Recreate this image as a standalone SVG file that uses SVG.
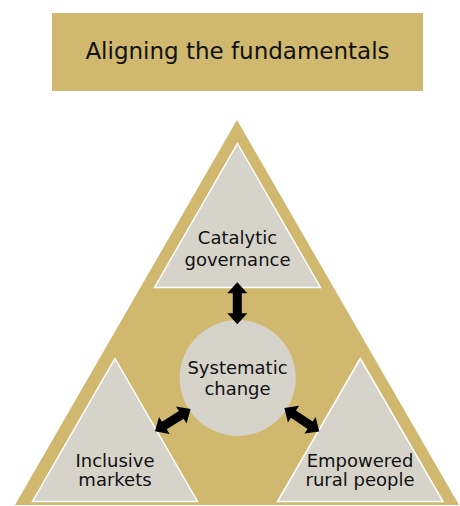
<svg xmlns="http://www.w3.org/2000/svg" width="460" height="506" viewBox="0 0 460 506">
  <style>
    .label { font-family: "DejaVu Sans", Verdana, sans-serif; fill: #111111; text-anchor: middle; }
    .title { font-size: 23px; }
    .node { font-size: 18px; }
    .gold { fill: #D0B86F; }
    .panel { fill: #D6D3CA; stroke: #FFFFFF; stroke-width: 1.5; stroke-linejoin: miter; }
    .hub { fill: #D6D3CA; }
    .arrow { fill: #000000; }
  </style>
  <defs>
    <!-- double-headed block arrow, 42 long, centred on the origin along x -->
    <path id="dbl-arrow" d="M-21,0 L-10,-10 L-10,-4.5 L10,-4.5 L10,-10 L21,0 L10,10 L10,4.5 L-10,4.5 L-10,10 Z"/>
  </defs>

  <!-- heading banner -->
  <g id="title">
    <rect class="gold" x="52" y="13" width="371" height="78"/>
    <text class="label title" x="237.5" y="58.5">Aligning the fundamentals</text>
  </g>

  <!-- outer frame triangle -->
  <g id="frame">
    <polygon class="gold" points="237,120 459,505 15,505"/>
  </g>

  <g id="catalytic-governance">
    <polygon class="panel" points="237.5,143.5 320.5,287.5 154.5,287.5"/>
    <text class="label node" x="237.5" y="243.5">Catalytic</text>
    <text class="label node" x="237.5" y="266">governance</text>
  </g>

  <g id="inclusive-markets">
    <polygon class="panel" points="115,358.5 197.5,501.5 32.5,501.5"/>
    <text class="label node" x="115" y="466.5">Inclusive</text>
    <text class="label node" x="115" y="486">markets</text>
  </g>

  <g id="empowered-rural-people">
    <polygon class="panel" points="360.3,358.5 443,501.5 277.5,501.5"/>
    <text class="label node" x="360" y="466.5">Empowered</text>
    <text class="label node" x="360" y="486">rural people</text>
  </g>

  <g id="systematic-change">
    <circle class="hub" cx="237.7" cy="378" r="58"/>
    <text class="label node" x="237.5" y="374">Systematic</text>
    <text class="label node" x="237.5" y="394.5">change</text>
  </g>

  <!-- two-way links between the hub and each pillar -->
  <g id="connectors" class="arrow">
    <use href="#dbl-arrow" transform="translate(237.3,303.3) rotate(90)"/>
    <use href="#dbl-arrow" transform="translate(172.8,420.2) rotate(-32)"/>
    <use href="#dbl-arrow" transform="translate(301.8,419.7) rotate(34)"/>
  </g>
</svg>
